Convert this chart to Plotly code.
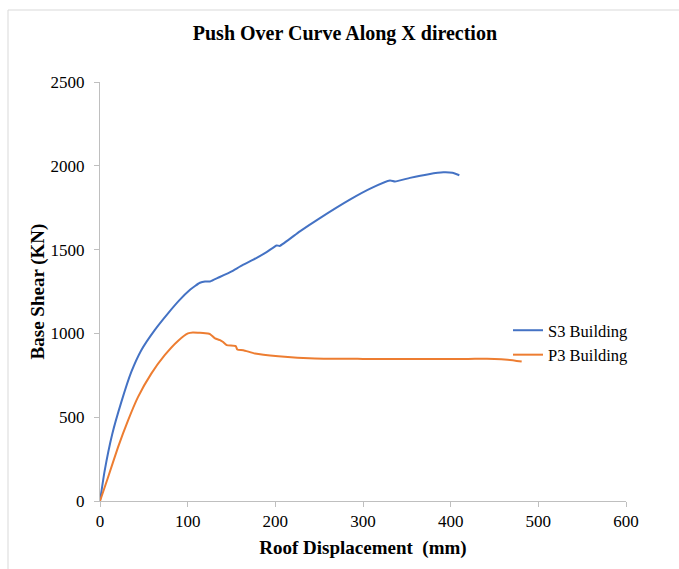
import plotly.graph_objects as go

s3_disp = [0, 5.3, 14, 24.3, 35.7, 47.1, 62.4, 77.6, 90.9, 102.7, 108.4, 114, 119.8, 125.5, 136, 146.4, 150.2,
           163.5, 175, 190, 201.5, 205, 228, 250, 285, 310, 330.8, 336.5, 353.6, 375, 391.6, 402, 409.9]
s3_shear = [0, 180, 400, 590, 770, 900, 1020, 1120, 1200, 1260, 1283, 1302, 1310, 1310, 1335, 1360, 1370,
            1410, 1440, 1485, 1525, 1522, 1609, 1685, 1798, 1868, 1912, 1906, 1928, 1950, 1961, 1958, 1944]

p3_disp = [0, 9.1, 20.5, 31.9, 43.3, 58.5, 73.8, 88.9, 100.3, 106, 113, 123, 125.5, 131.2, 136.9, 140, 144.5,
           154.8, 156.6, 163.5, 176.8, 203.4, 245.2, 300, 350, 420, 450, 465, 481]
p3_shear = [0, 140, 320, 480, 620, 760, 870, 955, 1000, 1006, 1004, 1000, 996, 970, 960, 950, 930,
            924, 904, 900, 880, 864, 850, 848, 848, 848, 848, 843, 832]

serif = "Liberation Serif, Times New Roman, serif"

fig = go.Figure()
fig.add_trace(go.Scatter(x=s3_disp, y=s3_shear, mode="lines", name="S3 Building",
                         line=dict(color="#4472C4", width=2, shape="spline", smoothing=0.5)))
fig.add_trace(go.Scatter(x=p3_disp, y=p3_shear, mode="lines", name="P3 Building",
                         line=dict(color="#ED7D31", width=2, shape="spline", smoothing=0.5)))

fig.update_layout(
    width=679, height=569,
    margin=dict(l=100, r=53, t=82, b=68),
    paper_bgcolor="white", plot_bgcolor="white",
    font=dict(family=serif, size=17, color="#000000"),
    title=dict(text="<b>Push Over Curve Along X direction</b>", x=0.508, xanchor="center",
               y=1 - 33 / 569, yanchor="middle", font=dict(family=serif, size=20, color="#000000")),
    showlegend=True,
    legend=dict(x=0.7757, y=(501 - 313) / 419, xanchor="left", yanchor="top",
                font=dict(family=serif, size=16.5, color="#000000"),
                bgcolor="rgba(0,0,0,0)", tracegroupgap=0, itemwidth=30),
    xaxis=dict(range=[0, 600], tickvals=[0, 100, 200, 300, 400, 500, 600], showgrid=False, zeroline=False,
               showline=True, linecolor="#bfbfbf", linewidth=1, ticks="outside", ticklen=5,
               tickcolor="#bfbfbf", tickfont=dict(family=serif, size=17),
               title=dict(text="<b>Roof Displacement  (mm)</b>", font=dict(family=serif, size=19), standoff=10)),
    yaxis=dict(range=[0, 2500], tickvals=[0, 500, 1000, 1500, 2000, 2500], showgrid=False, zeroline=False,
               showline=True, linecolor="#bfbfbf", linewidth=1, ticks="outside", ticklen=5,
               tickcolor="#bfbfbf", tickfont=dict(family=serif, size=17), ticklabelstandoff=6,
               title=dict(text="<b>Base Shear (KN)</b>", font=dict(family=serif, size=19), standoff=0)),
    shapes=[
        dict(type="line", xref="paper", yref="paper", x0=(8 - 100) / 526, x1=1.2, y0=(501 - 10) / 419, y1=(501 - 10) / 419,
             line=dict(color="#d9d9d9", width=1)),
        dict(type="line", xref="paper", yref="paper", x0=(8 - 100) / 526, x1=(8 - 100) / 526, y0=-0.3, y1=(501 - 10) / 419,
             line=dict(color="#d9d9d9", width=1)),
    ],
)

fig.write_html("out.html")
